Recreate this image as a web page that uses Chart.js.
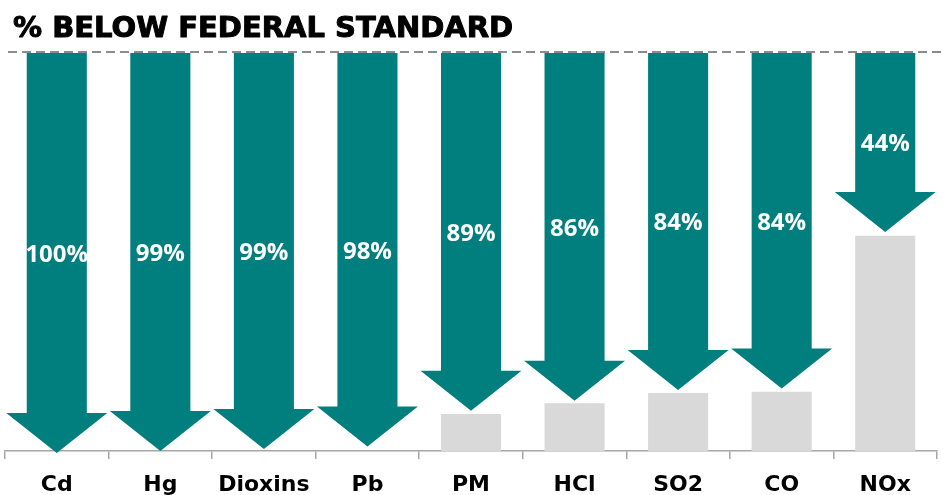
<!DOCTYPE html>
<html><head><meta charset="utf-8">
<script src="https://cdn.jsdelivr.net/npm/chart.js@4.4.1/dist/chart.umd.min.js"></script>
<style>html,body{margin:0;padding:0;background:#fff;} #wrap{width:943px;height:495px;position:relative;}</style>
</head><body><div id="wrap"><canvas id="c"></canvas></div>
<script>
const titleText = '% BELOW FEDERAL STANDARD';
const categories = ['Cd','Hg','Dioxins','Pb','PM','HCl','SO2','CO','NOx'];
const percentBelow = [100, 99, 99, 98, 89, 86, 84, 84, 44];
const arrowEnd = [-0.5, 0, 0.5, 1.1, 10.1, 12.6, 15.3, 15.7, 55];
const remaining = [0, 0, 0, 0, 9.3, 12, 14.6, 14.9, 54.1];
const standardLevel = 100;

const TEAL = '#007f7e';
const GRAY = '#d9d9d9';

const arrowPlugin = {
  id: 'arrows',
  afterDatasetsDraw(chart) {
    const ctx = chart.ctx;
    const xs = chart.scales.x, ys = chart.scales.y;
    const catW = (xs.right - xs.left) / categories.length;
    const meta = chart.getDatasetMeta(1);
    ctx.save();
    meta.data.forEach((el, i) => {
      const p = el.getProps(['x', 'y', 'base', 'width'], true);
      const top = Math.min(p.y, p.base), tip = Math.max(p.y, p.base);
      const half = p.width / 2, headHalf = catW * 0.4875, headH = 40;
      const x = p.x;
      ctx.beginPath();
      ctx.moveTo(x - half, top);
      ctx.lineTo(x + half, top);
      ctx.lineTo(x + half, tip - headH);
      ctx.lineTo(x + headHalf, tip - headH);
      ctx.lineTo(x, tip);
      ctx.lineTo(x - headHalf, tip - headH);
      ctx.lineTo(x - half, tip - headH);
      ctx.closePath();
      ctx.fillStyle = TEAL;
      ctx.fill();
      ctx.fillStyle = '#ffffff';
      ctx.font = '700 24px "Open Sans"';
      ctx.textAlign = 'center';
      ctx.textBaseline = 'middle';
      ctx.fillText(percentBelow[i] + '%', x, (top + tip) / 2 + 2);
    });
    // dashed standard line
    const yStd = ys.getPixelForValue(standardLevel) - 1;
    ctx.beginPath();
    ctx.setLineDash([9, 5]);
    ctx.strokeStyle = '#8c8c8c';
    ctx.lineWidth = 2;
    ctx.moveTo(8, yStd);
    ctx.lineTo(chart.width, yStd);
    ctx.stroke();
    ctx.setLineDash([]);
    // title
    ctx.fillStyle = '#000';
    ctx.strokeStyle = '#000';
    ctx.lineWidth = 1;
    ctx.lineJoin = 'round';
    ctx.font = 'bold 29px "DejaVu Sans"';
    ctx.textAlign = 'left';
    ctx.textBaseline = 'alphabetic';
    ctx.fillText(titleText, 13, 37);
    ctx.strokeText(titleText, 13, 37);
    ctx.restore();
  }
};

new Chart(document.getElementById('c'), {
  type: 'bar',
  data: {
    labels: categories,
    datasets: [
      { label: 'Remaining', data: remaining, backgroundColor: GRAY, borderWidth: 0 },
      { label: 'Below standard', data: arrowEnd.map(v => [v, standardLevel]), backgroundColor: 'rgba(0,0,0,0)', borderWidth: 0 }
    ]
  },
  options: {
    responsive: true,
    maintainAspectRatio: false,
    animation: false,
    layout: { padding: { left: 5, right: 6, top: 53, bottom: 0 } },
    datasets: { bar: { grouped: false, barPercentage: 0.58, categoryPercentage: 1 } },
    plugins: { legend: { display: false }, tooltip: { enabled: false }, title: { display: false } },
    scales: {
      y: { display: false, min: 0, max: 100 },
      x: {
        offset: true,
        afterFit(scale) { scale.height = 44; },
        border: { display: true, color: '#a6a6a6', width: 1.5 },
        grid: { display: true, drawOnChartArea: false, drawTicks: true, tickLength: 8, color: '#a6a6a6', lineWidth: 1.5, offset: true },
        ticks: { color: '#000', padding: 14, font: { family: '"DejaVu Sans"', weight: 'bold', size: 22, lineHeight: 1.15 } }
      }
    }
  },
  plugins: [arrowPlugin]
});
</script>
</body></html>
